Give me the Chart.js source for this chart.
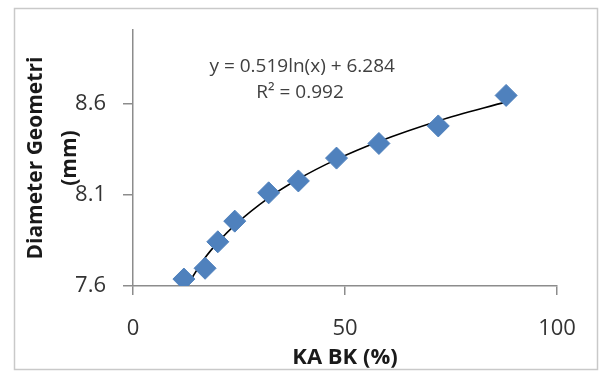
<!DOCTYPE html>
<html>
<head>
<meta charset="utf-8">
<script src="https://cdn.jsdelivr.net/npm/chart.js@4.4.1/dist/chart.umd.min.js"></script>
<style>
  html, body { margin: 0; padding: 0; background: #ffffff; }
  #wrap { position: relative; width: 599px; height: 372px; }
</style>
</head>
<body>
<div id="wrap"><canvas id="c" width="599" height="372"></canvas></div>
<script>
// ---- data ----
const kaBK = [12, 17, 20, 24, 32, 39, 48, 58, 72, 88];               // x: KA BK (%)
const diameter = [7.638, 7.697, 7.842, 7.955, 8.11, 8.175, 8.30, 8.38, 8.476, 8.643]; // y: Diameter Geometri (mm)
const xTicks = [0, 50, 100];
const yTicks = [7.6, 8.1, 8.6];
// logarithmic trendline shown on the chart: y = a ln(x) + b
const trendA = 0.519;
const trendB = 6.284;
const equationLabel = 'y = 0.519ln(x) + 6.284';
const r2Label = 'R\u00B2 = 0.992';

const points = kaBK.map((x, i) => ({ x: x, y: diameter[i] }));
const trend = kaBK.map(x => ({ x: x, y: trendA * Math.log(x) + trendB }));

const FONT = "'Open Sans', 'Liberation Sans', sans-serif";

const decorPlugin = {
  id: 'decor',
  beforeDraw(chart) {
    const ctx = chart.ctx;
    ctx.save();
    ctx.fillStyle = '#ffffff';
    ctx.fillRect(0, 0, chart.width, chart.height);
    ctx.restore();
  },
  afterDraw(chart) {
    const ctx = chart.ctx;
    const xs = chart.scales.x, ys = chart.scales.y;
    ctx.save();
    // outer chart border
    ctx.strokeStyle = '#c9c9c9';
    ctx.lineWidth = 1.5;
    ctx.strokeRect(14.5, 8.5, 583, 361);
    // trendline equation
    ctx.fillStyle = '#404040';
    ctx.font = '19px ' + FONT;
    ctx.textAlign = 'center';
    ctx.textBaseline = 'middle';
    ctx.fillText(equationLabel, xs.getPixelForValue(39.9), ys.getPixelForValue(8.80));
    ctx.fillText(r2Label, xs.getPixelForValue(39.4), ys.getPixelForValue(8.66));
    ctx.restore();
  }
};

new Chart(document.getElementById('c'), {
  type: 'scatter',
  data: {
    datasets: [
      {
        label: 'Trendline',
        type: 'line',
        data: trend,
        borderColor: '#000000',
        borderWidth: 1.6,
        pointRadius: 0,
        fill: false,
        cubicInterpolationMode: 'monotone',
        order: 2
      },
      {
        label: 'Diameter',
        data: points,
        pointStyle: 'rectRot',
        pointRadius: 11,
        pointHoverRadius: 11,
        backgroundColor: '#4f81bd',
        borderColor: '#4f81bd',
        borderWidth: 1,
        order: 1
      }
    ]
  },
  options: {
    responsive: false,
    animation: false,
    devicePixelRatio: 1,
    layout: { padding: { left: 0, top: 25, right: 42, bottom: 0 } },
    plugins: {
      legend: { display: false },
      tooltip: { enabled: false }
    },
    scales: {
      x: {
        type: 'linear',
        min: 0,
        max: 100,
        afterBuildTicks(scale) { scale.ticks = xTicks.map(v => ({ value: v })); },
        afterFit(scale) { scale.height = 86; },
        grid: { display: true, drawOnChartArea: false, drawTicks: true, tickLength: 9, color: '#8c8c8c', lineWidth: 1.5 },
        border: { display: true, color: '#8c8c8c', width: 1.5 },
        ticks: { color: '#333333', font: { family: FONT, size: 22 }, padding: 21, maxRotation: 0 },
        title: {
          display: true,
          text: 'KA BK (%)',
          color: '#1a1a1a',
          font: { family: FONT, size: 22, weight: 'bold', lineHeight: 1.2 },
          padding: { top: 0, bottom: 1 }
        }
      },
      y: {
        type: 'linear',
        min: 7.6,
        max: 9.0,
        afterBuildTicks(scale) { scale.ticks = yTicks.map(v => ({ value: v })); },
        afterFit(scale) { scale.width = 133; },
        grid: { display: true, drawOnChartArea: false, drawTicks: true, tickLength: 10, color: '#8c8c8c', lineWidth: 1.5 },
        border: { display: true, color: '#8c8c8c', width: 1.5 },
        ticks: { color: '#333333', font: { family: FONT, size: 22 }, padding: 17, callback: v => v.toFixed(1) },
        title: {
          display: true,
          text: ['Diameter Geometri', '(mm)'],
          color: '#1a1a1a',
          font: { family: FONT, size: 21, weight: 'bold', lineHeight: '34px' },
          padding: { top: 19, bottom: 0 }
        }
      }
    }
  },
  plugins: [decorPlugin]
});
</script>
</body>
</html>
